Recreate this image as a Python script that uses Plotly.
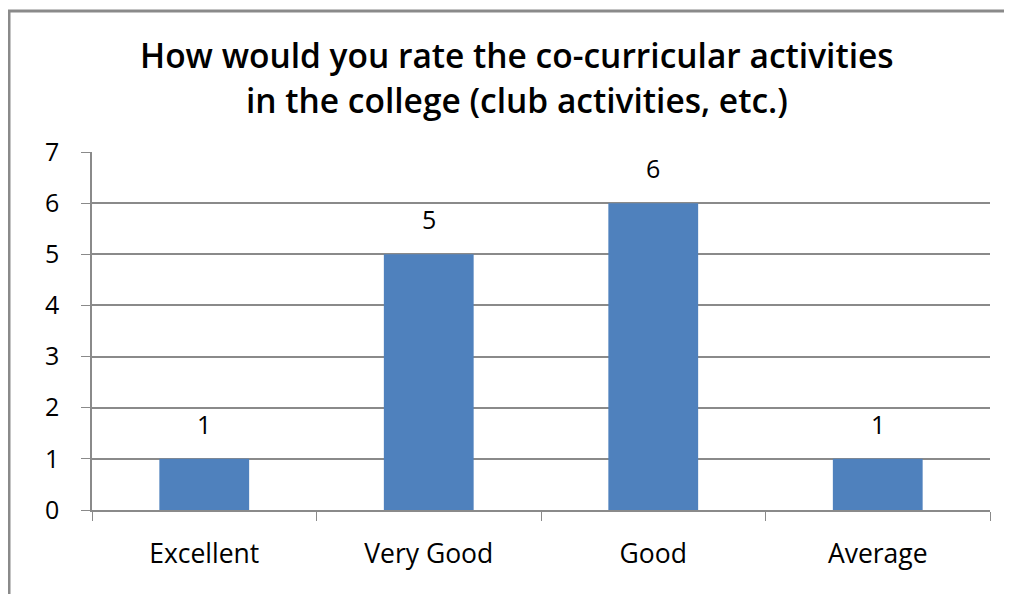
import plotly.graph_objects as go

categories = ["Excellent", "Very Good", "Good", "Average"]
values = [1, 5, 6, 1]
y_ticks = [0, 1, 2, 3, 4, 5, 6, 7]
title_lines = ["How would you rate the co-curricular activities",
               "in the college (club activities, etc.)"]

W, H = 1012, 594
# page has an 8px body margin, so figure coordinates are shifted by -8
L, R, T, B = 84, 30, 144, 92
PW, PH = W - L - R, H - T - B
FONT = "Open Sans"
GRID = "#8a8a8a"

fig = go.Figure(go.Bar(
    x=categories, y=values,
    marker=dict(color="#4F81BD", line=dict(width=0)),
    width=0.4,
    hoverinfo="x+y",
))

annotations = []
for c, v in zip(categories, values):
    annotations.append(dict(
        x=c, y=v, xref="x", yref="y", text=str(v), showarrow=False,
        yanchor="bottom", yshift=16,
        font=dict(family=FONT, size=25, color="#000000"),
    ))
for i, line in enumerate(title_lines):
    cy = 47 + 45 * i
    annotations.append(dict(
        x=(509 - L) / PW, y=1 + (T - cy) / PH, xref="paper", yref="paper",
        text=line, showarrow=False,
        xanchor="center", yanchor="middle",
        font=dict(family=FONT, size=33.5, color="#000000", weight=600),
    ))

fig.update_layout(
    width=W, height=H,
    margin=dict(l=L, r=R, t=T, b=B),
    paper_bgcolor="white", plot_bgcolor="white",
    showlegend=False,
    font=dict(family=FONT, size=25, color="#000000"),
    annotations=annotations,
    xaxis=dict(
        type="category", tickson="boundaries", ticks="outside", ticklen=9,
        tickcolor=GRID, showline=True, linecolor=GRID, linewidth=1.5,
        showgrid=False, ticklabelstandoff=19,
        tickfont=dict(family=FONT, size=26.5, color="#000000"),
    ),
    yaxis=dict(
        range=[0, 7], tickvals=y_ticks, ticks="outside", ticklen=9,
        tickcolor=GRID, showline=True, linecolor=GRID, linewidth=1.5,
        showgrid=True, gridcolor=GRID, gridwidth=1.5, zeroline=False,
        ticklabelstandoff=17,
        tickfont=dict(family=FONT, size=25, color="#000000"),
    ),
    shapes=[dict(type="rect", xref="paper", yref="paper",
                 x0=(1 - L) / PW, x1=1.2, y0=-1, y1=1 + (T - 3) / PH,
                 line=dict(color="#8a8a8a", width=3), layer="above")],
)

fig.write_html("out.html")
